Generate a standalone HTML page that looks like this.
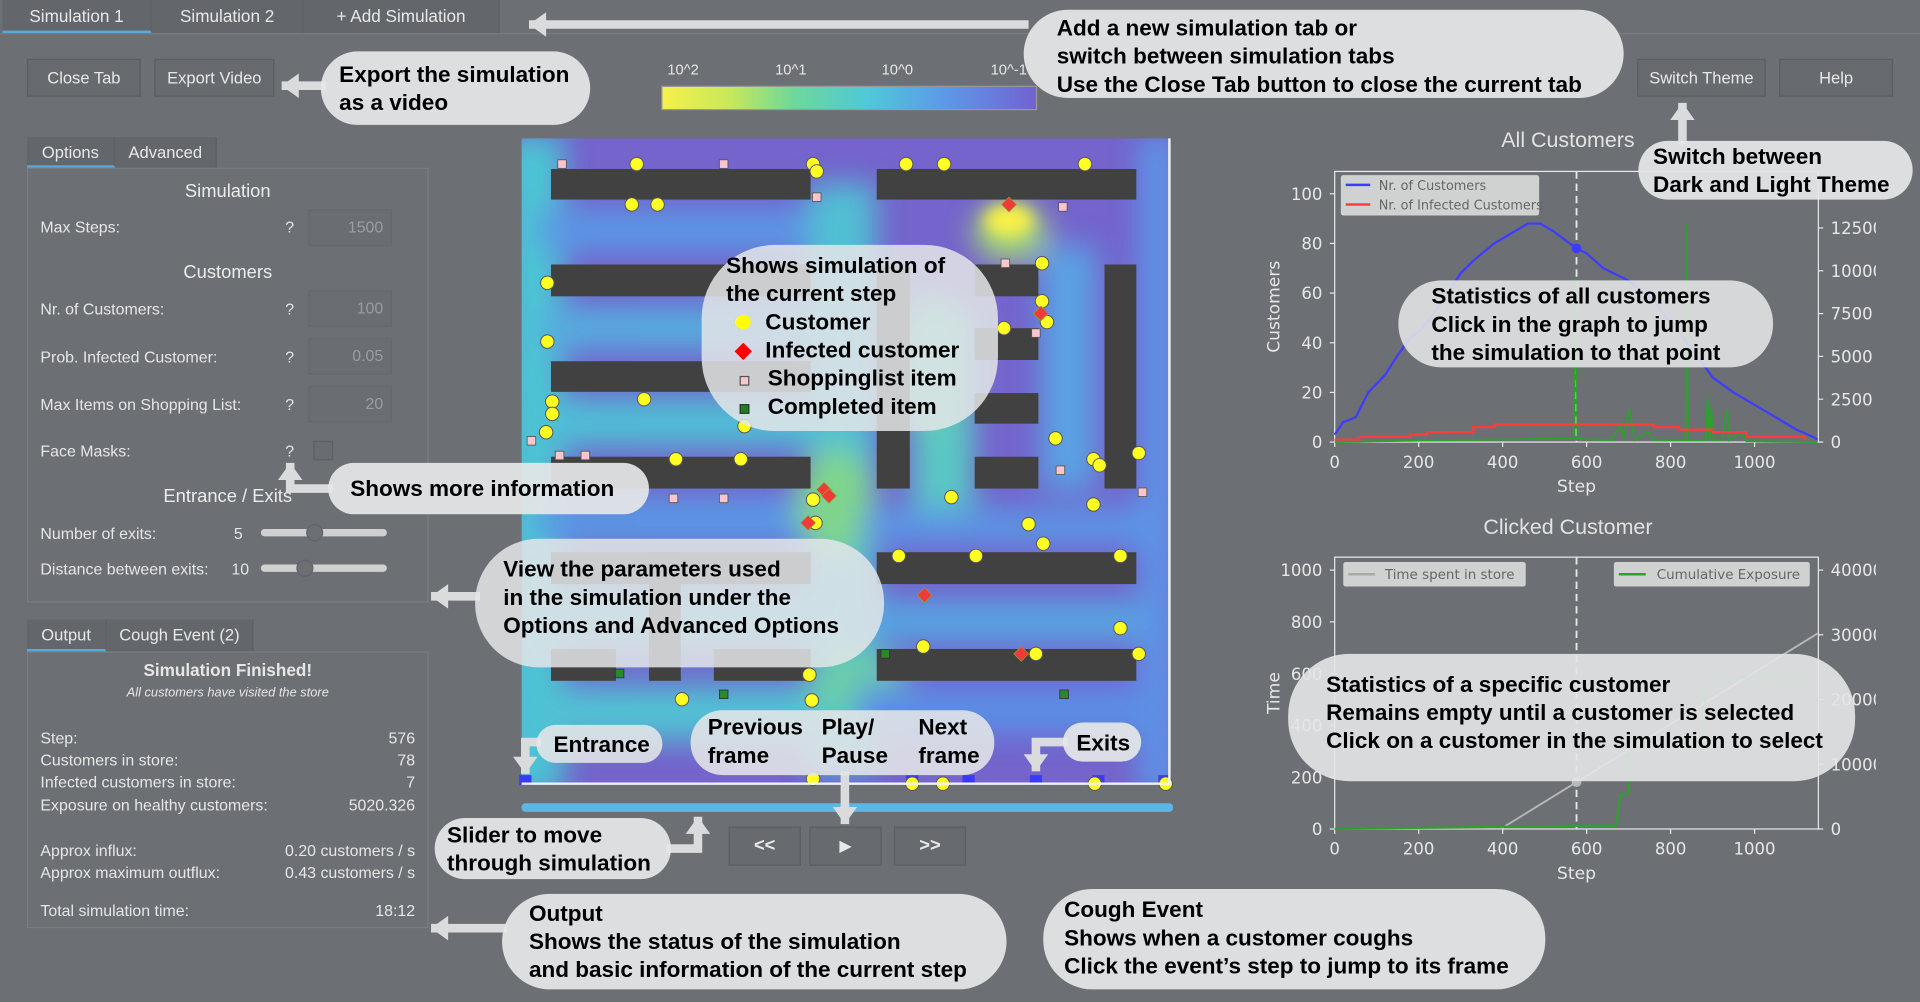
<!DOCTYPE html>
<html><head><meta charset="utf-8">
<style>
html,body{margin:0;padding:0;background:#6c6f74;overflow:hidden;width:1920px;height:1001px}
#root{position:absolute;left:0;top:0;width:1568px;height:818px;transform:scale(1.22449);transform-origin:0 0;font-family:"Liberation Sans",sans-serif;color:#e6e6e6;font-size:13px}
.a{position:absolute}
.btn{position:absolute;background:#676a6f;border:1px solid #5b5e62;color:#e8e8e8;text-align:center;box-sizing:border-box;font-size:13.5px}
.tab{position:absolute;top:0;height:27px;line-height:27px;text-align:center;background:#63666b;color:#e8e8e8;font-size:14px;border-right:1px solid #5c5f63;box-sizing:border-box}
.panel{position:absolute;border:1px solid #7a7d82;box-sizing:border-box}
.lbl{position:absolute;left:33px;font-size:13px;color:#e6e6e6}
.q{position:absolute;left:233px;font-size:13px}
.inp{position:absolute;left:252px;width:68px;height:30px;border:1px solid #65686c;background:#6a6d72;box-sizing:border-box;text-align:right;padding-right:6px;line-height:28px;color:#9a9da1;font-size:13px}
.h{position:absolute;width:328px;left:22px;text-align:center;font-size:15px;color:#ececec}
.call{position:absolute;background:rgba(228,230,231,0.93);border-radius:32px;color:#000;font-weight:bold;font-size:18.4px;line-height:23px;box-sizing:border-box;white-space:nowrap}
.ov{position:absolute;left:33px;font-size:13px}
.ovr{position:absolute;right:1229px;font-size:13px;text-align:right}
.thumb{position:absolute;width:14px;height:14px;border-radius:7px;background:#6c6f74;border:1px solid #606368;box-sizing:border-box}
</style></head><body>
<div id="root">
<div class="tab" style="left:2px;width:122px;border-bottom:2px solid #5aa9d6">Simulation 1</div>
<div class="tab" style="left:124px;width:124px">Simulation 2</div>
<div class="tab" style="left:248px;width:160px">+ Add Simulation</div>
<div class="a" style="left:0;top:27px;width:1568px;height:1px;background:#7a7d82"></div>

<div class="btn" style="left:22px;top:48px;width:93px;height:31px;line-height:29px">Close Tab</div>
<div class="btn" style="left:126px;top:48px;width:98px;height:31px;line-height:29px">Export Video</div>
<div class="btn" style="left:1337px;top:48px;width:105px;height:31px;line-height:29px">Switch Theme</div>
<div class="btn" style="left:1453px;top:48px;width:93px;height:31px;line-height:29px">Help</div>

<div class="a" style="left:545px;top:50px;font-size:12px">10^2</div>
<div class="a" style="left:633px;top:50px;font-size:12px">10^1</div>
<div class="a" style="left:720px;top:50px;font-size:12px">10^0</div>
<div class="a" style="left:809px;top:50px;font-size:12px">10^-1</div>
<div class="a" style="left:540px;top:70px;width:305px;height:18px;background:linear-gradient(90deg,#f6f04a 0%,#c8e85a 18%,#6ed89a 35%,#4fc8d8 55%,#5c9ae8 75%,#7262d0 100%);border:1px solid #999"></div>

<div class="tab" style="left:22px;top:112px;width:72px;height:25px;line-height:25px;font-size:13.5px;border-bottom:2px solid #5aa9d6">Options</div>
<div class="tab" style="left:94px;top:112px;width:83px;height:25px;line-height:25px;font-size:13.5px">Advanced</div>
<div class="panel" style="left:22px;top:137px;width:328px;height:355px"></div>
<div class="h" style="top:148px">Simulation</div>
<div class="lbl" style="top:178px">Max Steps:</div>
<div class="q" style="top:178px">?</div>
<div class="inp" style="top:171px">1500</div>
<div class="h" style="top:214px">Customers</div>
<div class="lbl" style="top:245px">Nr. of Customers:</div>
<div class="q" style="top:245px">?</div>
<div class="inp" style="top:237px">100</div>
<div class="lbl" style="top:284px">Prob. Infected Customer:</div>
<div class="q" style="top:284px">?</div>
<div class="inp" style="top:276px">0.05</div>
<div class="lbl" style="top:323px">Max Items on Shopping List:</div>
<div class="q" style="top:323px">?</div>
<div class="inp" style="top:315px">20</div>
<div class="lbl" style="top:361px">Face Masks:</div>
<div class="q" style="top:361px">?</div>
<div class="a" style="left:256px;top:360px;width:14px;height:14px;border:1px solid #5d6064;background:#696c71"></div>
<div class="h" style="top:397px">Entrance / Exits</div>
<div class="lbl" style="top:428px">Number of exits:</div>
<div class="a" style="left:191px;top:428px">5</div>
<div class="a" style="left:213px;top:432px;width:103px;height:6px;border-radius:3px;background:#d0d0d0"></div>
<div class="thumb" style="left:250px;top:428px"></div>
<div class="lbl" style="top:457px">Distance between exits:</div>
<div class="a" style="left:189px;top:457px">10</div>
<div class="a" style="left:213px;top:461px;width:103px;height:6px;border-radius:3px;background:#d0d0d0"></div>
<div class="thumb" style="left:242px;top:457px"></div>

<div class="tab" style="left:22px;top:506px;width:65px;height:26px;line-height:26px;font-size:13.5px;border-bottom:2px solid #5aa9d6">Output</div>
<div class="tab" style="left:87px;top:506px;width:120px;height:26px;line-height:26px;font-size:13.5px">Cough Event (2)</div>
<div class="panel" style="left:22px;top:532px;width:328px;height:226px"></div>
<div class="a" style="left:22px;width:328px;top:539px;text-align:center;font-weight:bold;font-size:14px">Simulation Finished!</div>
<div class="a" style="left:22px;width:328px;top:560px;text-align:center;font-style:italic;font-size:10.5px">All customers have visited the store</div>
<div class="ov" style="top:595px">Step:</div><div class="ovr" style="top:595px">576</div>
<div class="ov" style="top:613px">Customers in store:</div><div class="ovr" style="top:613px">78</div>
<div class="ov" style="top:631px">Infected customers in store:</div><div class="ovr" style="top:631px">7</div>
<div class="ov" style="top:650px">Exposure on healthy customers:</div><div class="ovr" style="top:650px">5020.326</div>
<div class="ov" style="top:687px">Approx influx:</div><div class="ovr" style="top:687px">0.20 customers / s</div>
<div class="ov" style="top:705px">Approx maximum outflux:</div><div class="ovr" style="top:705px">0.43 customers / s</div>
<div class="ov" style="top:736px">Total simulation time:</div><div class="ovr" style="top:736px">18:12</div>

<svg class="a" style="left:0;top:0" width="1568" height="818">
<defs>
<filter id="bl" x="-50%" y="-50%" width="200%" height="200%"><feGaussianBlur stdDeviation="12"/></filter>
<filter id="bl2" x="-50%" y="-50%" width="200%" height="200%"><feGaussianBlur stdDeviation="6"/></filter>
<clipPath id="cp"><rect x="426" y="113" width="529" height="527"/></clipPath>
</defs>
<g clip-path="url(#cp)">
<rect x="426" y="113" width="529" height="527" fill="#7464cc"/>
<g filter="url(#bl)" opacity="0.95">
<rect x="410" y="110" width="50" height="540" fill="#48cad4"/>
<rect x="440" y="170" width="230" height="36" fill="#5a9ae6"/>
<rect x="440" y="250" width="230" height="36" fill="#54b0e0"/>
<rect x="440" y="325" width="230" height="40" fill="#4ec4d6"/>
<rect x="440" y="405" width="230" height="40" fill="#5a9ae6"/>
<rect x="440" y="480" width="230" height="50" fill="#52bcd8"/>
<rect x="440" y="560" width="240" height="45" fill="#50c6d4"/>
<rect x="660" y="150" width="55" height="480" fill="#50c4d4"/>
<rect x="745" y="250" width="50" height="170" fill="#58cec4"/>
<ellipse cx="682" cy="410" rx="32" ry="45" fill="#80dc88"/>
<ellipse cx="760" cy="300" rx="30" ry="60" fill="#62d0b8"/>
<ellipse cx="700" cy="560" rx="40" ry="30" fill="#6ad4a8"/>
<rect x="705" y="490" width="230" height="35" fill="#54a8e2"/>
<rect x="705" y="415" width="230" height="30" fill="#5a9ae6"/>
<rect x="850" y="200" width="45" height="200" fill="#58a6e4"/>
<rect x="930" y="110" width="30" height="540" fill="#5c98e8"/>
<rect x="700" y="560" width="240" height="40" fill="#5a90e6"/>
<ellipse cx="825" cy="190" rx="30" ry="24" fill="#a8e070"/>
</g>
<ellipse cx="824" cy="180" rx="20" ry="13" fill="#f8f04a" filter="url(#bl2)"/>
</g>
<g id="shelves"></g>
<g id="items"></g>
<line x1="426" y1="640" x2="956" y2="640" stroke="#f2f2f2" stroke-width="2"/>
<line x1="955" y1="113" x2="955" y2="640" stroke="#f2f2f2" stroke-width="2"/>
<rect x="426" y="656" width="532" height="7" rx="3" fill="#5cb6e6"/>
</svg>
<div class="btn" style="left:595px;top:675px;width:59px;height:32px;line-height:30px;font-size:15px;font-weight:bold">&lt;&lt;</div>
<div class="btn" style="left:661px;top:675px;width:59px;height:32px;line-height:30px;font-size:13px">&#9654;</div>
<div class="btn" style="left:730px;top:675px;width:59px;height:32px;line-height:30px;font-size:15px;font-weight:bold">&gt;&gt;</div>

<div class="a" style="left:1083px;width:395px;top:104px;text-align:center;font-size:17.5px;color:#e2e2e2">All Customers</div>
<div class="a" style="left:1083px;width:395px;top:420px;text-align:center;font-size:17.5px;color:#e2e2e2">Clicked Customer</div>
<svg class="a" id="charts" style="left:0;top:0" width="1568" height="818"></svg>

<svg class="a" id="arrows" style="left:0;top:0" width="1568" height="818"></svg>
<div class="call" style="left:262px;top:42px;width:220px;height:60px;padding:7px 0 0 15px">Export the simulation<br>as a video</div>
<div class="call" style="left:836px;top:8px;width:490px;height:72px;padding:3px 0 0 27px;border-radius:36px">Add a new simulation tab or<br>switch between simulation tabs<br>Use the Close Tab button to close the current tab</div>
<div class="call" style="left:1338px;top:115px;width:224px;height:48px;padding:1px 0 0 12px;border-radius:24px">Switch between<br>Dark and Light Theme</div>
<div class="call" style="left:268px;top:378px;width:262px;height:42px;padding:9px 0 0 18px;border-radius:21px">Shows more information</div>
<div class="call" style="left:573px;top:200px;width:242px;height:152px;padding:5px 0 0 20px;border-radius:60px;background:rgba(228,230,231,0.85)">Shows simulation of<br>the current step<br>
<span style="display:inline-block;width:12px;height:12px;border-radius:6px;background:#ffff00;margin:0 12px 0 8px"></span>Customer<br>
<span style="display:inline-block;width:10px;height:10px;background:#ff0000;transform:rotate(45deg);margin:0 13px 0 9px"></span>Infected customer<br>
<span style="display:inline-block;width:6px;height:6px;background:#f8c8cc;border:1px solid #555;margin:0 15px 0 11px"></span>Shoppinglist item<br>
<span style="display:inline-block;width:6px;height:6px;background:#208020;border:1px solid #333;margin:0 15px 0 11px"></span>Completed item</div>
<div class="call" style="left:388px;top:440px;width:334px;height:105px;padding:13px 0 0 23px;border-radius:52px;background:rgba(228,230,231,0.85)">View the parameters used<br>in the simulation under the<br>Options and Advanced Options</div>
<div class="call" style="left:1142px;top:229px;width:306px;height:71px;padding:1px 0 0 27px;border-radius:35px;background:rgba(228,230,231,0.88)">Statistics of all customers<br>Click in the graph to jump<br>the simulation to that point</div>
<div class="call" style="left:1052px;top:534px;width:463px;height:104px;padding:13px 0 0 31px;border-radius:50px;background:rgba(228,230,231,0.9)">Statistics of a specific customer<br>Remains empty until a customer is selected<br>Click on a customer in the simulation to select</div>
<div class="call" style="left:438px;top:592px;width:103px;height:31px;padding:4px 0 0 14px;border-radius:16px;background:rgba(228,230,231,0.88)">Entrance</div>
<div class="call" style="left:564px;top:580px;width:248px;height:53px;padding:2px 0 0 14px;border-radius:26px;background:rgba(228,230,231,0.88)"><span class="a" style="left:14px;top:2px">Previous<br>frame</span><span class="a" style="left:107px;top:2px">Play/<br>Pause</span><span class="a" style="left:186px;top:2px">Next<br>frame</span></div>
<div class="call" style="left:868px;top:590px;width:64px;height:32px;padding:5px 0 0 11px;border-radius:16px">Exits</div>
<div class="call" style="left:355px;top:668px;width:193px;height:50px;padding:2px 0 0 10px;border-radius:25px">Slider to move<br>through simulation</div>
<div class="call" style="left:410px;top:730px;width:412px;height:78px;padding:4px 0 0 22px;border-radius:39px">Output<br>Shows the status of the simulation<br>and basic information of the current step</div>
<div class="call" style="left:852px;top:726px;width:410px;height:82px;padding:5px 0 0 17px;border-radius:40px">Cough Event<br>Shows when a customer coughs<br>Click the event’s step to jump to its frame</div>
</div>

<script>
const shelfRects = [[450,138,212,25],[716,138,212,25],[450,216,212,26],[796,216,52,26],[902,216,26,183],[796,268,52,26],[450,295,212,25],[796,321,52,25],[716,217,27,182],[796,373,52,26],[450,373,212,26],[716,451,212,26],[450,451,212,26],[530,451,26,105],[450,530,53,26],[583,530,79,26],[716,530,212,26]];
const customerX = [520,664,667,740,771,886,516,537,447,851,851,855,820,447,526,451,451,446,552,605,664,666,777,840,852,862,893,898,930,893,734,797,915,915,754,846,930,661,557,663,664,745,770,952,894,605,608];
const customerY = [134,134,140,134,134,134,167,167,231,215,246,263,268,279,326,328,338,353,375,375,408,427,406,428,444,358,375,380,370,412,454,454,454,513,528,534,534,551,571,572,636,640,640,640,640,263,348];
const infectedX = [673,677,660,755,834,850,824];
const infectedY = [400,405,427,486,534,256,167];
const listItemX = [459,591,667,868,821,846,434,457,550,591,866,933,478];
const listItemY = [134,134,161,169,215,272,360,372,407,407,384,402,372];
const doneX = [506,723,591,869];
const doneY = [550,534,567,567];
const exitX = [429,745,791,846,897,951];

const stepsCust = [0,20,50,80,120,150,180,210,250,300,330,380,420,460,490,520,560,576,600,640,700,760,800,850,900,950,1000,1050,1100,1140,1150];
const nrCustomers = [3,8,10,20,27,35,42,46,55,68,73,80,84,88,88,85,80,78,76,70,65,57,48,38,26,20,15,10,5,2,1];
const stepsInf = [0,20,60,180,220,330,380,440,640,760,820,900,980,1120];
const nrInfected = [1,1,2,3,4,6,7,7,7,6,5,4,2,1];
const stepsExp = [0,100,400,570,575,578,660,680,690,700,715,745,760,835,838,842,885,888,893,897,902,925,928,935,940,970,980,1150];
const exposureAll = [0,50,150,200,9600,200,100,1000,100,2000,100,600,100,100,12800,100,100,2600,100,2000,100,100,1200,1900,100,600,50,0];
const stepsTime = [0,395,1150];
const timeSpent = [0,0,755];
const stepsCum = [0,575,670,680,700,705,880,885,1150];
const cumExposure = [0,500,500,5200,5500,12500,13000,23200,23500];
const xTicks = [0,200,400,600,800,1000];
const y1Ticks = [0,20,40,60,80,100];
const y1rTicks = [0,2500,5000,7500,10000,12500];
const y2Ticks = [0,200,400,600,800,1000];
const y2rTicks = [0,10000,20000,30000,40000];
const currentStep = 576;

const NS='http://www.w3.org/2000/svg';
function mk(parent,tag,attrs){const e=document.createElementNS(NS,tag);for(const k in attrs)e.setAttribute(k,attrs[k]);parent.appendChild(e);return e;}

const sh=document.getElementById('shelves');
shelfRects.forEach(r=>{const e=mk(sh,'rect',{x:r[0],y:r[1],width:r[2],height:r[3],fill:'#414141'});

});
const it=document.getElementById('items');
listItemX.forEach((x,i)=>{const e=mk(it,'rect',{x:x-3.5,y:listItemY[i]-3.5,width:7,height:7,fill:'#f8c6cc',stroke:'#555','stroke-width':0.7});

});
doneX.forEach((x,i)=>{const e=mk(it,'rect',{x:x-3.5,y:doneY[i]-3.5,width:7,height:7,fill:'#2a8a2a',stroke:'#333','stroke-width':0.7});

});
exitX.forEach(x=>{const e=mk(it,'rect',{x:x-5,y:633,width:10,height:8,fill:'#3a3aff'});

});
customerX.forEach((x,i)=>{const e=mk(it,'circle',{cx:x,cy:customerY[i],r:5.5,fill:'#ffff22',stroke:'#555','stroke-width':0.8});

});
infectedX.forEach((x,i)=>{const y=infectedY[i];const e=mk(it,'polygon',{points:`${x},${y-6} ${x+6},${y} ${x},${y+6} ${x-6},${y}`,fill:'#f03a3a',stroke:'#993','stroke-width':0.6});

});

const C=document.getElementById('charts');
const L=1090,R=1485,XMAX=1152;
function xs(s){return L+s*(R-L)/XMAX;}
function chart(top,bottom,ymax,yrmax,yTicks,yrTicks,ylabel,name){
  const ys=v=>bottom-v*(bottom-top)/ymax;
  const yr=v=>bottom-v*(bottom-top)/yrmax;
  const g=mk(C,'g',{});
  
  
  mk(g,'rect',{x:L,y:top,width:R-L,height:bottom-top,fill:'none',stroke:'#e8e8e8','stroke-width':1});
  xTicks.forEach(t=>{mk(g,'line',{x1:xs(t),x2:xs(t),y1:bottom,y2:bottom+4,stroke:'#e8e8e8'});
    const tx=mk(g,'text',{x:xs(t),y:bottom+21,'text-anchor':'middle','font-size':13.5,fill:'#e6e6e6','font-family':'DejaVu Sans, sans-serif'});tx.textContent=t;
    
    });
  yTicks.forEach(t=>{mk(g,'line',{x1:L-4,x2:L,y1:ys(t),y2:ys(t),stroke:'#e8e8e8'});
    const tx=mk(g,'text',{x:L-10,y:ys(t)+5,'text-anchor':'end','font-size':13.5,fill:'#e6e6e6','font-family':'DejaVu Sans, sans-serif'});tx.textContent=t;
    
    });
  yrTicks.forEach(t=>{mk(g,'line',{x1:R,x2:R+4,y1:yr(t),y2:yr(t),stroke:'#e8e8e8'});
    const tx=mk(g,'text',{x:R+10,y:yr(t)+5,'font-size':13.5,fill:'#e6e6e6','font-family':'DejaVu Sans, sans-serif'});tx.textContent=t;
    
    });
  mk(C,'rect',{x:R+47,y:top-20,width:40,height:bottom-top+40,fill:'#6c6f74'});
  const xl=mk(g,'text',{x:(L+R)/2,y:bottom+41,'text-anchor':'middle','font-size':14,fill:'#e6e6e6','font-family':'DejaVu Sans, sans-serif'});xl.textContent='Step';
  
  
  const cy=(top+bottom)/2;
  const yl=mk(g,'text',{x:1045,y:cy,'text-anchor':'middle','font-size':14,fill:'#e6e6e6','font-family':'DejaVu Sans, sans-serif',transform:`rotate(-90 1045 ${cy})`});yl.textContent=ylabel;
  
  
  mk(g,'line',{x1:xs(currentStep),x2:xs(currentStep),y1:top,y2:bottom,stroke:'#e8e8e8','stroke-width':1.5,'stroke-dasharray':'6,4'});
  return {g,ys,yr};
}
function line(g,sx,sv,yf,color,w,name,step){
  let d='';sx.forEach((s,i)=>{const x=xs(s),y=yf(sv[i]);if(i===0)d+=`M${x},${y}`;else{ if(step){d+=`H${x}V${y}`;} else d+=`L${x},${y}`;}});
  const p=mk(g,'path',{d,fill:'none',stroke:color,'stroke-width':w});
  
  
}
function interp(sx,sv,s){for(let i=1;i<sx.length;i++){if(s<=sx[i]){const t=(s-sx[i-1])/(sx[i]-sx[i-1]);return sv[i-1]+t*(sv[i]-sv[i-1]);}}return sv[sv.length-1];}

const c1=chart(140,361,109,15800,y1Ticks,y1rTicks,'Customers','all-customers-chart');
line(c1.g,stepsExp,exposureAll,c1.yr,'#2fa02f',1.5,'exposure-line',false);
line(c1.g,stepsInf,nrInfected,c1.ys,'#ff3c3c',1.8,'infected-line',true);
line(c1.g,stepsCust,nrCustomers,c1.ys,'#3c3cff',1.8,'customers-line',false);
mk(c1.g,'circle',{cx:xs(currentStep),cy:c1.ys(interp(stepsCust,nrCustomers,currentStep)),r:4,fill:'#3c3cff'});
mk(c1.g,'rect',{x:1095,y:143,width:162,height:33,rx:2,fill:'#dcdcdc','fill-opacity':0.9});
mk(c1.g,'line',{x1:1099,x2:1119,y1:151,y2:151,stroke:'#3c3cff','stroke-width':2});
mk(c1.g,'line',{x1:1099,x2:1119,y1:167,y2:167,stroke:'#ff3c3c','stroke-width':2});
let t=mk(c1.g,'text',{x:1126,y:155,'font-size':10.5,fill:'#666','font-family':'DejaVu Sans, sans-serif'});t.textContent='Nr. of Customers';


t=mk(c1.g,'text',{x:1126,y:171,'font-size':10.5,fill:'#666','font-family':'DejaVu Sans, sans-serif'});t.textContent='Nr. of Infected Customers';



const c2=chart(455,677,1050,42000,y2Ticks,y2rTicks,'Time','clicked-customer-chart');
line(c2.g,stepsTime,timeSpent,c2.ys,'#b8b8b8',1.5,'time-spent-line',false);
line(c2.g,stepsCum,cumExposure,c2.yr,'#2fa02f',1.8,'cumulative-exposure-line',false);
mk(c2.g,'circle',{cx:xs(currentStep),cy:c2.ys(interp(stepsTime,timeSpent,currentStep)),r:4,fill:'#b8b8b8'});
mk(c2.g,'rect',{x:1097,y:459,width:149,height:20,rx:2,fill:'#dcdcdc','fill-opacity':0.9});
mk(c2.g,'line',{x1:1101,x2:1123,y1:469,y2:469,stroke:'#aaa','stroke-width':2});
t=mk(c2.g,'text',{x:1131,y:473,'font-size':11,fill:'#666','font-family':'DejaVu Sans, sans-serif'});t.textContent='Time spent in store';


mk(c2.g,'rect',{x:1318,y:459,width:160,height:20,rx:2,fill:'#dcdcdc','fill-opacity':0.9});
mk(c2.g,'line',{x1:1322,x2:1344,y1:469,y2:469,stroke:'#2fa02f','stroke-width':2});
t=mk(c2.g,'text',{x:1353,y:473,'font-size':11,fill:'#666','font-family':'DejaVu Sans, sans-serif'});t.textContent='Cumulative Exposure';



const A=document.getElementById('arrows');
function arrow(pts,name){
  const col='#dadbdc';
  const p=mk(A,'polyline',{points:pts.map(q=>q.join(',')).join(' '),fill:'none',stroke:col,'stroke-width':7});
  
  
  const a=pts[pts.length-2],b=pts[pts.length-1];
  const dx=b[0]-a[0],dy=b[1]-a[1],len=Math.hypot(dx,dy),ux=dx/len,uy=dy/len;
  const hx=b[0],hy=b[1],bx=hx-ux*14,by=hy-uy*14;
  mk(A,'polygon',{points:`${hx},${hy} ${bx-uy*10},${by+ux*10} ${bx+uy*10},${by-ux*10}`,fill:col});
}
arrow([[840,20],[432,20]],'tabs-arrow');
arrow([[266,70],[230,70]],'export-arrow');
arrow([[272,399],[237,399],[237,378]],'info-arrow');
arrow([[392,487],[352,487]],'parameters-arrow');
arrow([[442,606],[429,606],[429,632]],'entrance-arrow');
arrow([[690,630],[690,673]],'play-arrow');
arrow([[872,606],[846,606],[846,630]],'exits-arrow');
arrow([[544,693],[570,693],[570,667]],'slider-arrow');
arrow([[414,758],[352,758]],'output-arrow');
arrow([[1374,118],[1374,84]],'theme-arrow');
</script>
</body></html>
